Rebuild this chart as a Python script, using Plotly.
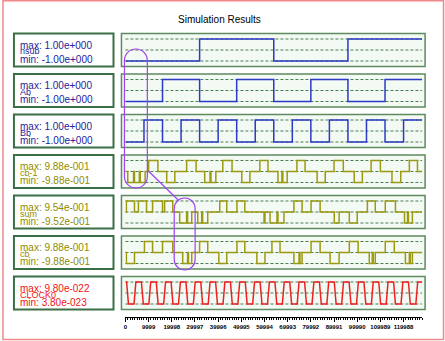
import plotly.graph_objects as go

W, H = 445, 341

# ---------------- data ----------------
title = "Simulation Results"
signal_names = ["nsub", "Ab", "Bb", "cb-1", "sum", "cb", "CLOCK0"]
max_labels = ["1.00e+000", "1.00e+000", "1.00e+000", "9.88e-001", "9.54e-001", "9.88e-001", "9.80e-022"]
min_labels = ["-1.00e+000", "-1.00e+000", "-1.00e+000", "-9.88e-001", "-9.52e-001", "-9.88e-001", "3.80e-023"]
max_vals = [1.0, 1.0, 1.0, 0.988, 0.954, 0.988, 9.80e-22]
min_vals = [-1.0, -1.0, -1.0, -0.988, -0.952, -0.988, 3.80e-23]

x_end = 128000
tick_vals = [0, 9999, 19998, 29997, 39996, 49995, 59994, 69993, 79992, 89991, 99990, 109989, 119988]

# step signals: times and level codes (H = max, M = 0, L = min)
nsub_t = [0, 32000, 64000, 96000, 128000]
nsub_lv = "LHLHH"
ab_t = [0, 16000, 32000, 48000, 64000, 80000, 96000, 112000, 128000]
ab_lv = "LHLHLHLHH"
bb_t = [0, 8000, 16000, 24000, 32000, 40000, 48000, 56000, 64000, 72000, 80000,
        88000, 96000, 104000, 112000, 120000, 128000]
bb_lv = "LHLHLHLHLHLHLHLHH"
cb1_t = [0, 1000, 3500, 3900, 6000, 6400, 8500, 10000, 14000, 17800, 21300, 26400, 30500,
         34200, 36500, 36900, 39000, 42000, 46000, 50200, 53700, 58000, 61500, 65800, 67500,
         67900, 69800, 74000, 77500, 82700, 86200, 90000, 94000, 98700, 102200, 106000,
         110000, 115000, 118800, 122500, 126000, 128000]
cb1_lv = "MLMLMLM" "HM" "LM" "HM" "LMLM" "HM" "LM" "HM" "LMLM" "HM" "LM" "HM" "LM" "HM" "LM" "HM" "M"
sum_t = [0, 400, 3900, 5600, 9100, 11700, 16000, 16900, 20400, 23400, 26400, 26800, 28600,
         31200, 32900, 33300, 35500, 40700, 43700, 48100, 51500, 59800, 60200, 62400, 65400,
         65800, 68400, 72700, 76200, 80100, 84000, 90100, 92200, 96600, 100000, 104400,
         107800, 112100, 116500, 120400, 121700, 122100, 123800, 128000]
sum_lv = "MHMHMHMHM" "LMLM" "LMLM" "HMHM" "LM" "LMLM" "HMHM" "LMLM" "HMHM" "LMLM" "M"
cb_t = [0, 400, 3900, 8200, 11700, 16000, 20400, 24700, 26800, 27200, 28600, 32000, 35500,
        40300, 43700, 48100, 51500, 56700, 60200, 63200, 66700, 72700, 74900, 75300, 76200,
        80100, 84000, 88300, 92200, 96600, 100400, 105200, 106500, 106900, 107800, 112100,
        116000, 120800, 122500, 122900, 123800, 128000]
cb_lv = "MLMHMHM" "LMLM" "HM" "LM" "HM" "LM" "HM" "LMLM" "HM" "LM" "HM" "LMLM" "HM" "LMLM" "M"
clock_t = [0,
           500, 1300, 3700, 4500, 6900, 7700, 10100, 10900, 13300, 14100, 16500, 17300,
           19700, 20500, 22900, 23700, 26100, 26900, 29300, 30100, 32500, 33300, 35700, 36500,
           38900, 39700, 42100, 42900, 45300, 46100, 48500, 49300, 51700, 52500, 54900, 55700,
           58100, 58900, 61300, 62100, 64500, 65300, 67700, 68500, 70900, 71700, 74100, 74900,
           77300, 78100, 80500, 81300, 83700, 84500, 86900, 87700, 90100, 90900, 93300, 94100,
           96500, 97300, 99700, 100500, 102900, 103700, 106100, 106900, 109300, 110100, 112500,
           113300, 115700, 116500, 118900, 119700, 122100, 122900, 125300, 126100,
           128000]
clock_lv = ("H" "HLLH HLLH HLLH HLLH HLLH HLLH HLLH HLLH HLLH HLLH "
            "HLLH HLLH HLLH HLLH HLLH HLLH HLLH HLLH HLLH HLLH" "H").replace(" ", "")

series = [(nsub_t, nsub_lv, "hv"), (ab_t, ab_lv, "hv"), (bb_t, bb_lv, "hv"),
          (cb1_t, cb1_lv, "hv"), (sum_t, sum_lv, "hv"), (cb_t, cb_lv, "hv"),
          (clock_t, clock_lv, "linear")]
for t, lv, _ in series:
    assert len(t) == len(lv), (len(t), len(lv))

# ---------------- style ----------------
BLUE, OLIVE, RED = "#2b3bc4", "#9c9a12", "#ee2020"
TXT_BLUE, TXT_OLIVE, TXT_RED = "#23239c", "#8e8c00", "#ee1414"
line_cols = [BLUE, BLUE, BLUE, OLIVE, OLIVE, OLIVE, RED]
text_cols = [TXT_BLUE] * 3 + [TXT_OLIVE] * 3 + [TXT_RED]
FONT = "Liberation Sans, Arial, sans-serif"

def px(x):
    return x / W

def py(y):
    return 1 - y / H

PANEL_L, PANEL_R = 120, 425
PLOT_L, PLOT_R = 124, 422
BOX_L, BOX_R = 12, 112
TOP0, PITCH, PH = 33.5, 40.5, 33

fig = go.Figure()
shapes, annos = [], []
layout = {}

for i, (t, lv, shape) in enumerate(series):
    n = "" if i == 0 else str(i + 1)
    top = TOP0 + PITCH * i
    bot = top + PH
    hi, lo = max_vals[i], min_vals[i]
    mid = (hi + lo) / 2 if i == 6 else 0.0
    lvmap = {"H": hi, "L": lo, "M": mid}
    y = [lvmap[c] for c in lv]
    span = hi - lo
    pad = span * 3.5 / 22
    fig.add_trace(go.Scatter(x=t, y=y, mode="lines", line=dict(color=line_cols[i], width=1.5, shape=shape),
                             xaxis="x" + n, yaxis="y" + n, hoverinfo="skip", showlegend=False))
    xa = dict(domain=[px(PLOT_L), px(PLOT_R)], range=[0, x_end], showgrid=False, zeroline=False,
              fixedrange=True)
    if i < 6:
        xa.update(visible=False)
    else:
        xa.update(visible=True, anchor="free", position=py(317), showline=True, linecolor="black",
                  linewidth=1, ticks="outside", ticklen=4, tickwidth=1, tickcolor="black",
                  tickmode="array", tickvals=tick_vals, ticktext=[str(v) for v in tick_vals],
                  tickfont=dict(size=6, color="black", family=FONT, weight="bold"),
                  minor=dict(ticks="outside", ticklen=2, tickcolor="black", tickmode="linear",
                             tick0=0, dtick=999.9, showgrid=False))
    layout["xaxis" + n] = xa
    layout["yaxis" + n] = dict(domain=[py(bot - 2), py(top + 2)], range=[lo - pad, hi + pad],
                               visible=False, fixedrange=True, anchor="x" + n)

    # label box
    shapes.append(dict(type="rect", xref="paper", yref="paper", x0=px(BOX_L), x1=px(BOX_R),
                       y0=py(bot), y1=py(top), line=dict(color="#3b6f46", width=2),
                       fillcolor="white", layer="below"))
    # panel
    shapes.append(dict(type="rect", xref="paper", yref="paper", x0=px(PANEL_L), x1=px(PANEL_R),
                       y0=py(bot), y1=py(top), line=dict(color="#5e8a60", width=1.5),
                       fillcolor="#f3f9f3", layer="below"))
    for lvl in (hi, mid, lo):
        shapes.append(dict(type="line", xref="paper", yref="y" + n, x0=px(PLOT_L), x1=px(PLOT_R),
                           y0=lvl, y1=lvl, line=dict(color="#4d7d52", width=1, dash="3px,2px"),
                           layer="below"))
    for dy, txt, fs in ((11.5, "max: " + max_labels[i], 10), (18.0, signal_names[i], 9),
                        (25.5, "min: " + min_labels[i], 10)):
        annos.append(dict(x=px(16), y=py(top + dy), xref="paper", yref="paper", text=txt,
                          showarrow=False, xanchor="left", yanchor="middle",
                          font=dict(size=fs, color=text_cols[i], family=FONT)))

annos.append(dict(x=px(218), y=py(20), xref="paper", yref="paper", text=title, showarrow=False,
                  xanchor="center", yanchor="middle", font=dict(size=10, color="black", family=FONT)))

# outer pink border
shapes.append(dict(type="rect", xref="paper", yref="paper", x0=px(1), x1=px(443.5), y0=py(339.5),
                   y1=py(0.8), line=dict(color="#f08a8a", width=1.5), layer="above"))

# purple hand-drawn marks
K = 0.5523

def stadium(x0, x1, y0, y1):
    r = (x1 - x0) / 2
    cx = (x0 + x1) / 2
    pts = [("M", [(x0, y1 - r)]), ("L", [(x0, y0 + r)]),
           ("C", [(x0, y0 + r - K * r), (cx - K * r, y0), (cx, y0)]),
           ("C", [(cx + K * r, y0), (x1, y0 + r - K * r), (x1, y0 + r)]),
           ("L", [(x1, y1 - r)]),
           ("C", [(x1, y1 - r + K * r), (cx + K * r, y1), (cx, y1)]),
           ("C", [(cx - K * r, y1), (x0, y1 - r + K * r), (x0, y1 - r)])]
    s = ""
    for cmd, ps in pts:
        s += cmd + " ".join(f"{px(a):.5f},{py(b):.5f}" for a, b in ps) + " "
    return s + "Z"

PURPLE = "#a044ee"
shapes.append(dict(type="path", xref="paper", yref="paper", path=stadium(123, 146, 49, 188),
                   line=dict(color=PURPLE, width=1.2), layer="above"))
shapes.append(dict(type="path", xref="paper", yref="paper", path=stadium(173, 194, 198, 270),
                   line=dict(color=PURPLE, width=1.2), layer="above"))
shapes.append(dict(type="line", xref="paper", yref="paper", x0=px(147), y0=py(171), x1=px(177),
                   y1=py(200), line=dict(color=PURPLE, width=1.2), layer="above"))

fig.update_layout(width=W, height=H, margin=dict(l=0, r=0, t=0, b=0), paper_bgcolor="white",
                  plot_bgcolor="rgba(0,0,0,0)", showlegend=False, shapes=shapes, annotations=annos,
                  font=dict(family=FONT), **layout)

fig.write_html("out.html", config={"displayModeBar": False},
               post_script="document.body.style.margin='0';document.body.style.padding='0';")
